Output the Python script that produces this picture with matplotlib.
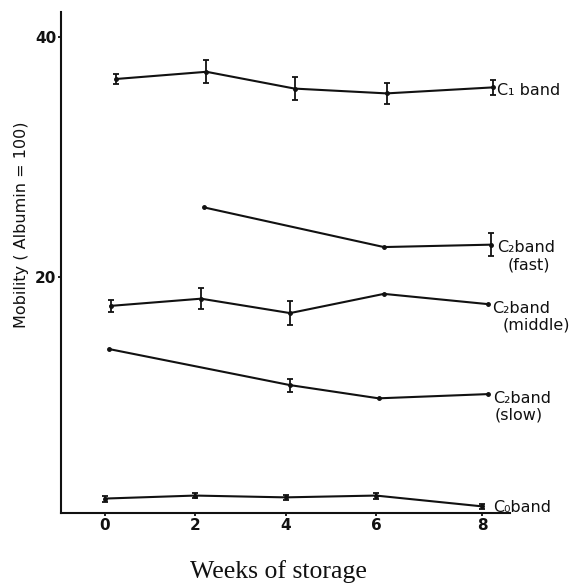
import numpy as np
import matplotlib.pyplot as plt

# marcas del eje x: el eje del original no es uniforme (la ultima division es mas larga)
semanas_ticks = [0, 2, 4, 6, 8]
pos_ticks = [0, 91, 182, 273, 380]

# C1 band
x_c1 = [0.25, 2.25, 4.2, 6.2, 8.2]
y_c1 = [36.5, 37.1, 35.7, 35.3, 35.8]
e_c1 = [0.4, 0.95, 0.95, 0.9, 0.6]

# C2 band (fast)
x_c2f = [2.2, 6.15, 8.17]
y_c2f = [25.8, 22.5, 22.7]
e_c2f = [0, 0, 0.95]

# C2 band (middle)
x_c2m = [0.13, 2.13, 4.1, 6.15, 8.1]
y_c2m = [17.6, 18.2, 17.0, 18.6, 17.75]
e_c2m = [0.5, 0.9, 1.0, 0, 0]

# C2 band (slow)
x_c2s = [0.1, 4.1, 6.05, 8.1]
y_c2s = [14.0, 11.0, 9.9, 10.25]
e_c2s = [0, 0.55, 0, 0]

# C0 band
x_c0 = [0, 2, 4, 6, 8]
y_c0 = [1.55, 1.8, 1.65, 1.8, 0.9]
e_c0 = [0.25, 0.2, 0.2, 0.25, 0.2]

etiquetas = [
    ("C\u2081 band", None),
    ("C\u2082band", "(fast)"),
    ("C\u2082band", "(middle)"),
    ("C\u2082band", "(slow)"),
    ("C\u2080band", None),
]


# escala lineal a trozos para reproducir el eje dibujado a mano
def adelante(x):
    x = np.asarray(x, dtype=float)
    p = np.interp(x, semanas_ticks, pos_ticks)
    p = np.where(x < 0, x * 45.5, p)
    p = np.where(x > 8, 380 + (x - 8) * 53.5, p)
    return p


def atras(p):
    p = np.asarray(p, dtype=float)
    x = np.interp(p, pos_ticks, semanas_ticks)
    x = np.where(p < 0, p / 45.5, x)
    x = np.where(p > 380, 8 + (p - 380) / 53.5, x)
    return x


fig = plt.figure(figsize=(5.86, 5.88), dpi=100)
ax = fig.add_axes([0.104, 0.1276, 0.766, 0.8524])
ax.set_xscale('function', functions=(adelante, atras))

color = '#111111'
series = [
    (x_c1, y_c1, e_c1, (3, -2), (3, -2)),
    (x_c2f, y_c2f, e_c2f, (4, -2), (12, -15)),
    (x_c2m, y_c2m, e_c2m, (3, -3), (11, -15)),
    (x_c2s, y_c2s, e_c2s, (4, -3), (5, -15)),
    (x_c0, y_c0, e_c0, (8, -1), (8, -1)),
]

for (xs, ys, es, off1, off2), (txt1, txt2) in zip(series, etiquetas):
    xs = np.array(xs)
    ys = np.array(ys)
    es = np.array(es)
    ax.plot(xs, ys, color=color, lw=1.5, marker='o', ms=2.5)
    m = es > 0
    if m.any():
        ax.errorbar(xs[m], ys[m], yerr=es[m], fmt='none', ecolor=color,
                    elinewidth=1.3, capsize=2.5, capthick=1.3)
    ax.annotate(txt1, xy=(xs[-1], ys[-1]), xytext=off1, textcoords='offset points',
                va='center', ha='left', fontsize=11.5, color=color)
    if txt2 is not None:
        ax.annotate(txt2, xy=(xs[-1], ys[-1]), xytext=off2, textcoords='offset points',
                    va='center', ha='left', fontsize=11.5, color=color)

ax.set_xlim(-0.97, 8.52)
ax.set_ylim(0.35, 42.1)
ax.set_xticks(semanas_ticks)
ax.set_yticks([20, 40])
ax.tick_params(axis='both', length=2.5, width=1.3, pad=1, labelsize=11, colors=color)
for lab in ax.get_xticklabels() + ax.get_yticklabels():
    lab.set_fontweight('bold')

for lado in ['top', 'right']:
    ax.spines[lado].set_visible(False)
for lado in ['left', 'bottom']:
    ax.spines[lado].set_linewidth(1.5)
    ax.spines[lado].set_color(color)

fig.text(22 / 586, 1 - 225 / 588, "Mobility ( Albumin = 100)", rotation=90,
         ha='center', va='center', fontsize=11.5, color=color)
fig.text(278 / 586, 1 - 572 / 588, "Weeks of storage", ha='center', va='center',
         fontsize=18.5, family='Liberation Serif', color=color)

fig.savefig('out.png', dpi=100)
